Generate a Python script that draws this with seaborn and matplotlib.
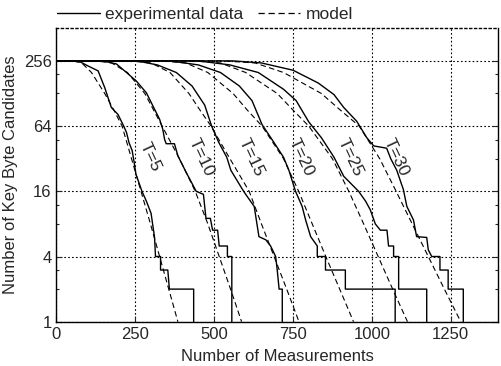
import pandas as pd
import matplotlib
matplotlib.use("Agg")
import matplotlib.pyplot as plt
import seaborn as sns
from matplotlib.lines import Line2D
from matplotlib.ticker import FixedLocator, NullFormatter

t_values = [5, 10, 15, 20, 25, 30]

t5_exp_n = [0, 69, 100, 132, 153, 174, 195, 211, 222, 230, 240, 246, 252, 271, 285, 300, 311, 314, 330, 330, 353, 358, 435, 435]
t5_exp_c = [256, 256, 230, 207, 145, 95, 82, 66, 56, 45, 38, 30, 23, 16, 13, 10, 6, 4, 4, 3, 3, 2, 2, 1]
t10_exp_n = [0, 147, 190, 222, 253, 285, 306, 327, 337, 343, 348, 374, 385, 411, 443, 466, 474, 488, 495, 511, 516, 542, 542, 556, 556]
t10_exp_c = [256, 256, 240, 200, 167, 130, 98, 74, 60, 48, 44, 44, 34, 24, 16, 15, 9, 9, 7, 7, 5, 5, 4, 4, 1]
t15_exp_n = [0, 255, 320, 380, 430, 470, 492, 515, 540, 553, 590, 600, 627, 642, 664, 679, 695, 700, 706, 716, 716]
t15_exp_c = [256, 256, 235, 200, 150, 100, 64, 45, 33, 25, 16.6, 15, 11.6, 6.1, 5.7, 5, 4, 3, 2, 2, 1]
t20_exp_n = [0, 360, 450, 520, 580, 620, 652, 690, 720, 737, 758, 779, 790, 806, 827, 827, 853, 853, 916, 916, 1074, 1074]
t20_exp_c = [256, 256, 235, 200, 150, 110, 66, 45, 33, 25, 16, 11.6, 8.7, 6.1, 5, 4, 4, 3, 3, 2, 2, 1]
t25_exp_n = [0, 450, 550, 640, 720, 760, 800, 840, 880, 911, 958, 980, 995, 1011, 1027, 1048, 1053, 1069, 1069, 1085, 1085, 1174, 1174]
t25_exp_c = [256, 256, 235, 200, 140, 110, 70, 50, 33, 22, 16, 13, 10.8, 8, 7, 7, 5, 5, 4, 4, 2, 2, 1]
t30_exp_n = [0, 560, 650, 750, 830, 880, 911, 952, 984, 1006, 1047, 1060, 1079, 1100, 1111, 1132, 1142, 1174, 1179, 1190, 1216, 1216, 1242, 1242, 1290, 1290]
t30_exp_c = [256, 256, 245, 210, 160, 125, 95, 71, 50, 42, 40, 32, 25, 16.6, 11.6, 8.7, 6.1, 6, 4.6, 4, 4, 3, 3, 2, 2, 1]

t5_mod_n = [0, 50, 80, 111, 153, 182, 208, 238, 268, 298, 327, 356, 385]
t10_mod_n = [0, 125, 175, 225, 280, 308, 335, 390, 440, 480, 516, 552, 587]
t15_mod_n = [0, 230, 300, 360, 420, 455, 490, 550, 611, 650, 690, 730, 769]
t20_mod_n = [0, 330, 410, 480, 560, 605, 652, 720, 768, 811, 854, 898, 942]
t25_mod_n = [0, 430, 520, 600, 700, 750, 800, 875, 927, 974, 1020, 1066, 1113]
t30_mod_n = [0, 530, 630, 720, 840, 900, 960, 1025, 1077, 1128, 1179, 1230, 1282]
mod_c = [256, 256, 245, 200, 128, 90, 64, 32, 16, 8, 4, 2, 1]

label_n = [296, 458, 617, 775, 932, 1078]
label_c = [33, 33, 33, 33, 33, 33]

y_ticks = [1, 4, 16, 64, 256]
y_minor = [2, 3, 8, 12, 32, 48, 128, 192]
x_ticks = [0, 250, 500, 750, 1000, 1250]

# ------------------------------------------------------------------------------
sns.set_style("ticks")
plt.rcParams["font.family"] = ["Liberation Sans", "DejaVu Sans"]
plt.rcParams["font.size"] = 12

fig, ax = plt.subplots(figsize=(5.02, 3.66), dpi=100)
fig.subplots_adjust(left=0.1125, right=0.992, bottom=0.121, top=0.9227)

exp_sets = [(t5_exp_n, t5_exp_c), (t10_exp_n, t10_exp_c), (t15_exp_n, t15_exp_c),
            (t20_exp_n, t20_exp_c), (t25_exp_n, t25_exp_c), (t30_exp_n, t30_exp_c)]
mod_sets = [t5_mod_n, t10_mod_n, t15_mod_n, t20_mod_n, t25_mod_n, t30_mod_n]

for n, c in exp_sets:
    sns.lineplot(x=n, y=c, ax=ax, color="black", lw=1.0, estimator=None, sort=False)
for n in mod_sets:
    sns.lineplot(x=n, y=mod_c, ax=ax, color="black", lw=0.8, estimator=None,
                 sort=False, linestyle=(0, (5, 3)))

for t, n, c in zip(t_values, label_n, label_c):
    ax.text(n, c, f"T={t}", rotation=-65, ha="center", va="center", fontsize=12.5)

ax.set_yscale("log", base=2)
ax.set_xlim(0, 1400)
ax.set_ylim(1, 512)
ax.yaxis.set_major_locator(FixedLocator(y_ticks))
ax.set_yticklabels([str(v) for v in y_ticks])
ax.yaxis.set_minor_locator(FixedLocator(y_minor))
ax.yaxis.set_minor_formatter(NullFormatter())
ax.set_xticks(x_ticks)
ax.tick_params(which="both", direction="in", right=True, width=0.8, labelsize=12)
ax.tick_params(which="major", length=4)
ax.tick_params(which="minor", length=2.5)
ax.grid(True, which="major", color="black", linestyle=(0, (1.5, 2)), lw=0.8)
for s in ax.spines.values():
    s.set_linewidth(1.0)
    s.set_color("black")
ax.spines["top"].set_linestyle((0, (1.5, 2)))
ax.set_xlabel("Number of Measurements", fontsize=12, labelpad=5)
ax.set_ylabel("Number of Key Byte Candidates", fontsize=12, labelpad=4)

handles = [Line2D([], [], color="black", lw=1.0),
           Line2D([], [], color="black", lw=0.9, linestyle=(0, (5, 3)))]
fig.legend(handles, ["experimental data", "model"], loc="center left",
           bbox_to_anchor=(57 / 502, 1 - 14 / 366), ncol=2, frameon=False,
           handlelength=2.45, handletextpad=0.3, columnspacing=0.85,
           borderaxespad=0, borderpad=0, fontsize=12.5)

fig.savefig("out.png", dpi=100)
